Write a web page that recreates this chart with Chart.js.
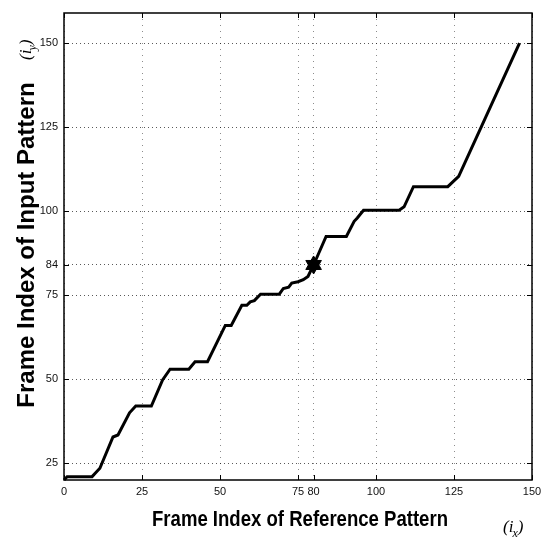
<!DOCTYPE html>
<html>
<head>
<meta charset="utf-8">
<script src="https://cdn.jsdelivr.net/npm/chart.js@4.4.1/dist/chart.umd.min.js"></script>
<style>
  html, body { margin: 0; padding: 0; background: #fff; }
  #wrap { width: 542px; height: 539px; }
</style>
</head>
<body>
<div id="wrap"><canvas id="dtw-chart" width="542" height="539"></canvas></div>
<script>
// warping path (reference frame -> input frame)
const refFrames = [0, 1, 9, 10, 11.5, 15.7, 17.3, 21, 23, 28, 31.6, 34, 40, 42, 46, 51.7, 53.6, 57, 58.6, 59.7, 61, 63, 69, 70.3, 72, 73, 75, 76.7, 78.2, 80, 84, 90.5, 93, 94, 96, 107.4, 109, 112, 123, 126.5, 146];
const inputFrames = [20, 21, 21, 22, 23.5, 32.8, 33.4, 40, 42, 42, 49.8, 53, 53, 55.2, 55.2, 66, 66, 72, 72, 73, 73.4, 75.3, 75.3, 77, 77.4, 78.6, 79, 79.6, 80.6, 84, 92.5, 92.5, 97, 98, 100.3, 100.3, 101.3, 107.3, 107.3, 110.4, 150];

const markX = [80];
const markY = [84];

const xTicks = [0, 25, 50, 75, 80, 100, 125, 150];
const yTicks = [25, 50, 75, 84, 100, 125, 150];

const tickFont = { family: "'Liberation Sans Narrow', 'Arial Narrow', 'Liberation Sans', Arial, sans-serif", size: 11 };

// box, inward ticks and axis titles, matlab style
const framePlugin = {
  id: 'frame',
  afterDraw(chart) {
    const { ctx, chartArea: a, scales } = chart;
    ctx.save();
    ctx.strokeStyle = '#000';
    ctx.lineWidth = 1;
    ctx.beginPath();
    xTicks.forEach(v => {
      const px = Math.round(scales.x.getPixelForValue(v)) + 0.5;
      ctx.moveTo(px, a.bottom); ctx.lineTo(px, a.bottom - 5);
      ctx.moveTo(px, a.top); ctx.lineTo(px, a.top + 5);
    });
    yTicks.forEach(v => {
      const py = Math.round(scales.y.getPixelForValue(v)) + 0.5;
      ctx.moveTo(a.left, py); ctx.lineTo(a.left + 5, py);
      ctx.moveTo(a.right, py); ctx.lineTo(a.right - 5, py);
    });
    ctx.stroke();
    ctx.lineWidth = 1.5;
    ctx.strokeRect(a.left, a.top, a.right - a.left, a.bottom - a.top);

    ctx.fillStyle = '#000';
    ctx.textAlign = 'center';
    ctx.textBaseline = 'alphabetic';
    ctx.font = "bold 22px 'Liberation Sans', Arial, sans-serif";
    ctx.fillText('Frame Index of Reference Pattern', 300, 526, 296);

    ctx.save();
    ctx.translate(34, 245);
    ctx.rotate(-Math.PI / 2);
    ctx.font = "bold 24px 'Liberation Sans', Arial, sans-serif";
    ctx.fillText('Frame Index of Input Pattern', 0, 0, 326);
    ctx.restore();

    const italic = "italic 17px 'Liberation Serif', 'DejaVu Serif', serif";
    const sub = "italic 12px 'Liberation Serif', 'DejaVu Serif', serif";
    const drawIndex = (letter) => {
      ctx.textAlign = 'left';
      ctx.font = italic;
      ctx.fillText('(i', 0, 0);
      let w = ctx.measureText('(i').width;
      ctx.font = sub;
      ctx.fillText(letter, w - 1, 5);
      w += ctx.measureText(letter).width - 1;
      ctx.font = italic;
      ctx.fillText(')', w, 0);
    };
    ctx.save();
    ctx.translate(503, 532);
    drawIndex('x');
    ctx.restore();
    ctx.save();
    ctx.translate(31, 60);
    ctx.rotate(-Math.PI / 2);
    drawIndex('y');
    ctx.restore();
    ctx.restore();
  }
};

const ctx = document.getElementById('dtw-chart').getContext('2d');
new Chart(ctx, {
  type: 'scatter',
  data: {
    datasets: [
      {
        data: refFrames.map((x, i) => ({ x, y: inputFrames[i] })),
        showLine: true,
        borderColor: '#000',
        borderWidth: 3,
        pointRadius: 0,
        tension: 0,
        clip: false
      },
      {
        data: markX.map((x, i) => ({ x, y: markY[i] })),
        pointStyle: 'triangle',
        pointRadius: 9,
        backgroundColor: '#000',
        borderColor: '#000',
        borderWidth: 1
      },
      {
        data: markX.map((x, i) => ({ x, y: markY[i] })),
        pointStyle: 'triangle',
        rotation: 180,
        pointRadius: 9,
        backgroundColor: '#000',
        borderColor: '#000',
        borderWidth: 1
      }
    ]
  },
  options: {
    responsive: false,
    animation: false,
    events: [],
    layout: { padding: { top: 13, right: 8, left: 0, bottom: 0 } },
    plugins: { legend: { display: false }, tooltip: { enabled: false } },
    scales: {
      x: {
        type: 'linear',
        min: 0,
        max: 150,
        afterBuildTicks: s => { s.ticks = xTicks.map(v => ({ value: v })); },
        afterFit: s => { s.height = 59; s.paddingLeft = 0; s.paddingRight = 0; },
        ticks: { autoSkip: false, maxRotation: 0, padding: 5, font: tickFont, color: '#111' },
        grid: { color: 'rgba(0,0,0,0.45)', lineWidth: 1, drawTicks: false },
        border: { display: false, dash: [1, 5] }
      },
      y: {
        min: 20,
        max: 159,
        afterBuildTicks: s => { s.ticks = yTicks.map(v => ({ value: v })); },
        afterFit: s => { s.width = 64; s.paddingTop = 0; s.paddingBottom = 0; },
        ticks: { autoSkip: false, padding: 6, font: tickFont, color: '#111' },
        grid: { color: 'rgba(0,0,0,0.65)', lineWidth: 1, drawTicks: false },
        border: { display: false, dash: [1, 3] }
      }
    }
  },
  plugins: [framePlugin]
});
</script>
</body>
</html>
